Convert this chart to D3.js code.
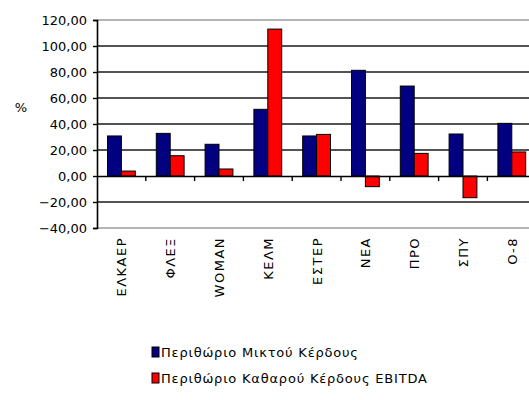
<!DOCTYPE html>
<html>
<head>
<meta charset="utf-8">
<script src="https://cdn.jsdelivr.net/npm/d3@7"></script>
<style>
  html, body { margin: 0; padding: 0; background: #fff; }
  svg { display: block; }
  text { font-family: "DejaVu Sans", Verdana, sans-serif; fill: #000; }
</style>
</head>
<body>
<svg id="chart" width="529" height="400"></svg>
<script>
// Companies on the category axis
const categories = ["ΕΛΚΑΕΡ", "ΦΛΕΞ", "WOMAN", "ΚΕΛΜ", "ΕΣΤΕΡ", "ΝΕΑ", "ΠΡΟ", "ΣΠΥ", "Ο-8"];
// Gross profit margin (%)
const grossMargin = [30.8, 32.8, 24.4, 51.3, 30.8, 81.3, 69.2, 32.3, 40.5];
// Net profit margin EBITDA (%)
const ebitdaMargin = [3.8, 15.6, 5.4, 113.0, 32.0, -8.2, 17.4, -16.7, 18.5];
const seriesNames = ["Περιθώριο Μικτού Κέρδους", "Περιθώριο Καθαρού Κέρδους EBITDA"];
const seriesColors = ["#000080", "#ff0000"];
const yTicks = [-40, -20, 0, 20, 40, 60, 80, 100, 120];

const svg = d3.select("#chart");
const plot = { left: 97, top: 20, bottom: 228, bandStep: 48.8 };
plot.right = plot.left + plot.bandStep * categories.length;

const x0 = d3.scaleBand().domain(categories).range([plot.left, plot.right]).padding(0);
const groupGap = x0.bandwidth() * 0.43;
const x1 = d3.scaleBand().domain(d3.range(seriesNames.length))
  .range([groupGap / 2, x0.bandwidth() - groupGap / 2]).padding(0);
const y = d3.scaleLinear().domain([-40, 120]).range([plot.bottom, plot.top]);

const fmt = v => d3.format(".2f")(v).replace(".", ",");

// Plot-area frame (top and bottom edges)
svg.append("g").selectAll("line").data([120, -40]).join("line")
  .attr("x1", plot.left).attr("x2", plot.right)
  .attr("y1", d => y(d)).attr("y2", d => y(d))
  .attr("stroke", "#9a9a9a").attr("stroke-width", 1.5);

// Horizontal gridlines
svg.append("g").selectAll("line").data(yTicks.filter(v => v !== 120 && v !== -40 && v !== 0)).join("line")
  .attr("x1", plot.left).attr("x2", plot.right)
  .attr("y1", d => y(d)).attr("y2", d => y(d))
  .attr("stroke", "#1a1a1a").attr("stroke-width", 1.6);

// Bars
const series = [grossMargin, ebitdaMargin];
series.forEach((vals, si) => {
  svg.append("g").selectAll("rect").data(categories).join("rect")
    .attr("x", (c) => x0(c) + x1(si))
    .attr("width", x1.bandwidth())
    .attr("y", (c, i) => y(Math.max(0, vals[i])))
    .attr("height", (c, i) => Math.abs(y(vals[i]) - y(0)))
    .attr("fill", seriesColors[si])
    .attr("stroke", "#000").attr("stroke-width", 1);
});

// Y axis
const yAxis = d3.axisLeft(y).tickValues(yTicks).tickFormat(fmt).tickSize(4).tickPadding(6);
const gy = svg.append("g").attr("transform", `translate(${plot.left},0)`).call(yAxis);
gy.select(".domain").attr("stroke", "#000").attr("stroke-width", 1.6);
gy.selectAll(".tick line").attr("stroke", "#000").attr("stroke-width", 1.4);
gy.selectAll(".tick text").style("font-size", "13px").attr("fill", "#000")
  .style("font-family", "'DejaVu Sans', Verdana, sans-serif");

// Zero axis with category separators
const xAxis = d3.axisBottom(x0).tickSize(0).tickFormat("");
const gx = svg.append("g").attr("transform", `translate(0,${y(0)})`).call(xAxis);
gx.select(".domain").attr("stroke", "#000").attr("stroke-width", 1.6);
svg.append("g").selectAll("line").data(categories.slice(1)).join("line")
  .attr("x1", c => x0(c)).attr("x2", c => x0(c))
  .attr("y1", y(0)).attr("y2", y(0) + 5)
  .attr("stroke", "#000").attr("stroke-width", 1.4);

// Category labels, rotated
svg.append("g").selectAll("text").data(categories).join("text")
  .attr("transform", c => `translate(${x0(c) + x0.bandwidth() / 2 + 5},237) rotate(-90)`)
  .attr("text-anchor", "end")
  .style("font-size", "13px").style("letter-spacing", "1.5px")
  .text(c => c);

// Axis title
svg.append("text").attr("x", 21).attr("y", 112).attr("text-anchor", "middle")
  .style("font-size", "13px").text("%");

// Legend
const legend = svg.append("g").attr("transform", "translate(152,352)");
seriesNames.forEach((name, i) => {
  const row = legend.append("g").attr("transform", `translate(0,${i * 26})`);
  row.append("rect").attr("x", 0).attr("y", -5).attr("width", 7).attr("height", 10)
    .attr("fill", seriesColors[i]).attr("stroke", "#000").attr("stroke-width", 1);
  row.append("text").attr("x", 9).attr("y", 0).attr("dy", "0.35em")
    .style("font-size", "13px").style("letter-spacing", "0.8px").text(name);
});
</script>
</body>
</html>
